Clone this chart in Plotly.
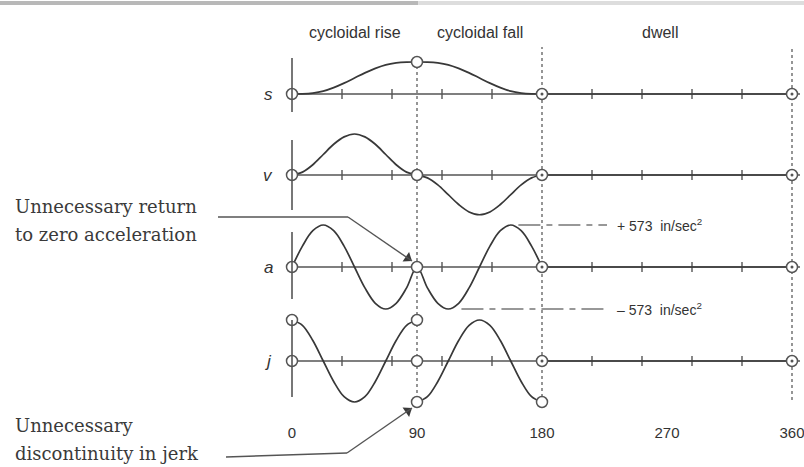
import math
import plotly.graph_objects as go

# ---------------- data ----------------
theta = [0, 7.5, 15, 22.5, 30, 37.5, 45, 52.5, 60, 67.5, 75, 82.5, 90,
         97.5, 105, 112.5, 120, 127.5, 135, 142.5, 150, 157.5, 165, 172.5, 180]
theta_rise = theta[:13]
theta_fall = theta[12:]

# displacement (normalised, rise height = 1)
s_vals = [0, 0.004, 0.03, 0.09, 0.2, 0.34, 0.5, 0.66, 0.8, 0.91, 0.97, 0.996, 1.0,
          0.996, 0.97, 0.91, 0.8, 0.66, 0.5, 0.34, 0.2, 0.09, 0.03, 0.004, 0]
# velocity (normalised)
v_vals = [0, 0.07, 0.25, 0.5, 0.75, 0.93, 1.0, 0.93, 0.75, 0.5, 0.25, 0.07, 0,
          -0.07, -0.24, -0.48, -0.72, -0.9, -0.97, -0.9, -0.72, -0.48, -0.24, -0.07, 0]
# acceleration, in/sec^2
a_vals = [0, 285, 495, 573, 495, 285, 0, -285, -495, -573, -495, -285, 0,
          -285, -495, -573, -495, -285, 0, 285, 495, 573, 495, 285, 0]
# jerk (normalised), discontinuous at 90 deg
j_rise = [1, 0.87, 0.5, 0, -0.5, -0.87, -1, -0.87, -0.5, 0, 0.5, 0.87, 1]
j_fall = [-1, -0.87, -0.5, 0, 0.5, 0.87, 1, 0.87, 0.5, 0, -0.5, -0.87, -1]

# dwell segment 180 -> 360
theta_dwell = [180, 360]
dwell_vals = [0, 0]

x_tick_vals = [0, 90, 180, 270, 360]
x_tick_text = ["0", "90", "180", "270", "360"]
minor_ticks = [36, 72, 108, 144, 216, 252, 288, 324]
segment_labels = ["cycloidal rise", "cycloidal fall", "dwell"]
segment_centres = [45, 135, 265]
acc_limit = 573
curve_names = ["s", "v", "a", "j"]

# ---------------- layout helpers (pixel geometry) ----------------
W, H = 804, 467
X0_PX, PX_PER_DEG = 292, 500 / 360
def p(py):
    return 1 - py / H
def deg(px):
    return (px - X0_PX) / PX_PER_DEG

HALF = 45  # half height of each strip, px
strips = {  # baseline px, px per unit
    "s": (94, 32 / 1.0),
    "v": (175, 41 / 1.0),
    "a": (267, 42 / acc_limit),
    "j": (361, 41 / 1.0),
}
axis_ids = {"s": "y", "v": "y2", "a": "y3", "j": "y4"}

CURVE = "#383838"
BASE = "#555555"
DOT = "#6a6a6a"
SANS = "Liberation Sans, Arial, sans-serif"
SERIF = "DejaVu Serif, Liberation Serif, serif"

fig = go.Figure()

def add_curve(x, y, ax):
    fig.add_trace(go.Scatter(x=x, y=y, yaxis=ax, mode="lines",
                             line=dict(color=CURVE, width=1.7, shape="spline", smoothing=1),
                             hoverinfo="skip", showlegend=False))

# baselines + minor ticks
for name in curve_names:
    ax = axis_ids[name]
    fig.add_trace(go.Scatter(x=[0, deg(800)], y=[0, 0], yaxis=ax, mode="lines",
                             line=dict(color=BASE, width=1.6), hoverinfo="skip", showlegend=False))
    fig.add_trace(go.Scatter(x=minor_ticks, y=[0] * len(minor_ticks), yaxis=ax, mode="markers",
                             marker=dict(symbol="line-ns-open", size=7, color=BASE,
                                         line=dict(color=BASE, width=1.4)),
                             hoverinfo="skip", showlegend=False, cliponaxis=False))

add_curve(theta, s_vals, "y")
add_curve(theta, v_vals, "y2")
add_curve(theta, a_vals, "y3")
add_curve(theta_rise + [None] + theta_fall, j_rise + [None] + j_fall, "y4")
for name in curve_names:
    add_curve(theta_dwell, dwell_vals, axis_ids[name])

# boundary circles
def circles(xs, ys, ax):
    fig.add_trace(go.Scatter(x=xs, y=ys, yaxis=ax, mode="markers",
                             marker=dict(symbol="circle", size=11, color="white",
                                         line=dict(color=BASE, width=1.5)),
                             hoverinfo="skip", showlegend=False, cliponaxis=False))

for name, vals in (("s", s_vals), ("v", v_vals), ("a", a_vals)):
    circles([theta[0], theta[12], theta[24], theta_dwell[-1]],
            [vals[0], vals[12], vals[24], dwell_vals[-1]], axis_ids[name])
circles([theta_rise[0], theta_rise[0], theta_rise[-1], theta_rise[-1], theta_fall[0],
         theta_fall[-1], theta_fall[-1], theta_dwell[-1]],
        [j_rise[0], 0, j_rise[-1], 0, j_fall[0], 0, j_fall[-1], dwell_vals[-1]], "y4")
# centre dots of the dwell-boundary circles
for name in curve_names:
    fig.add_trace(go.Scatter(x=theta_dwell, y=dwell_vals, yaxis=axis_ids[name], mode="markers",
                             marker=dict(symbol="circle", size=3, color=BASE),
                             hoverinfo="skip", showlegend=False, cliponaxis=False))

shapes = []
# scan border at top
shapes.append(dict(type="line", xref="paper", yref="paper", x0=0, x1=0.52, y0=p(3), y1=p(3),
                   line=dict(color="#b8b8b8", width=4)))
shapes.append(dict(type="line", xref="paper", yref="paper", x0=0.52, x1=1, y0=p(3), y1=p(3),
                   line=dict(color="#dddddd", width=4)))
# vertical axis stubs at 0 deg (px above / below baseline)
stubs = {"s": (36, 18), "v": (35, 35), "a": (35, 32), "j": (41, 36)}
for name, (up, down) in stubs.items():
    b, k = strips[name]
    shapes.append(dict(type="line", xref="x", yref=axis_ids[name], x0=0, x1=0,
                       y0=-down / k, y1=up / k, line=dict(color=BASE, width=1.6)))
# dotted verticals
for xv, ytop, ybot in ((90, 66, 399), (180, 47, 403), (360, 47, 400)):
    shapes.append(dict(type="line", xref="x", yref="paper", x0=xv, x1=xv, y0=p(ybot), y1=p(ytop),
                       line=dict(color=DOT, width=1.4, dash="dot"), layer="below"))
# +/- 573 dashed leaders
shapes.append(dict(type="line", xref="x", yref="y3", x0=163, x1=deg(607), y0=acc_limit, y1=acc_limit,
                   line=dict(color="#777777", width=1.5, dash="22px,6px,6px,6px")))
shapes.append(dict(type="line", xref="x", yref="y3", x0=122, x1=deg(607), y0=-acc_limit, y1=-acc_limit,
                   line=dict(color="#777777", width=1.5, dash="22px,6px,6px,6px")))

# leader lines (polyline: horizontal run then arrow shaft), pixel geometry
leaders = [
    # (start, bend, tip)
    ((218, 217), (348, 217), (412, 261)),
    ((226, 457), (347, 453), (412, 408)),
]
for (x0, y0), (x1, y1), (x2, y2) in leaders:
    for (ax0, ay0), (ax1, ay1) in (((x0, y0), (x1, y1)), ((x1, y1), (x2, y2))):
        shapes.append(dict(type="line", xref="paper", yref="paper", x0=ax0 / W, x1=ax1 / W,
                           y0=p(ay0), y1=p(ay1), line=dict(color="#555555", width=1.4)))
# arrow heads: rotated triangles on a full-height pixel overlay axis (y5)
for (_, (x1, y1), (x2, y2)) in leaders:
    dx, dy = x2 - x1, y2 - y1
    L = math.hypot(dx, dy)
    ux, uy = dx / L, dy / L
    ang = math.degrees(math.atan2(dx, -dy))
    cx, cy = x2 - 5 * ux, y2 - 5 * uy
    fig.add_trace(go.Scatter(x=[deg(cx)], y=[cy], yaxis="y5", mode="markers",
                             marker=dict(symbol="triangle-up", size=10, angle=ang, color="#3a3a3a",
                                         line=dict(width=0)),
                             hoverinfo="skip", showlegend=False, cliponaxis=False))

ann = []
for name in curve_names:
    ann.append(dict(x=deg(268), y=0, xref="x", yref=axis_ids[name], text=f"<i>{name}</i>",
                    showarrow=False, font=dict(family=SANS, size=17, color="#333333")))
for txt, xc in zip(segment_labels, segment_centres):
    ann.append(dict(x=xc, y=p(22), xref="x", yref="paper", text=txt, showarrow=False,
                    font=dict(family=SANS, size=16, color="#333333")))
ann.append(dict(x=deg(615), y=acc_limit, xref="x", yref="y3", xanchor="left",
                text=f"+ {acc_limit}  in/sec<sup>2</sup>", showarrow=False,
                font=dict(family=SANS, size=14, color="#333333")))
ann.append(dict(x=deg(615), y=-acc_limit, xref="x", yref="y3", xanchor="left",
                text=f"\u2013 {acc_limit}  in/sec<sup>2</sup>", showarrow=False,
                font=dict(family=SANS, size=14, color="#333333")))
for txt, py in (("Unnecessary return", 206), ("to zero acceleration", 234),
                ("Unnecessary", 425), ("discontinuity in jerk", 453)):
    ann.append(dict(x=13 / W, y=p(py), xref="paper", yref="paper", xanchor="left", yanchor="middle",
                    text=txt, showarrow=False, font=dict(family=SERIF, size=18, color="#3a3a3a")))

layout = dict(
    width=W, height=H, margin=dict(l=0, r=0, t=0, b=0),
    paper_bgcolor="white", plot_bgcolor="rgba(0,0,0,0)",
    showlegend=False, shapes=shapes, annotations=ann,
    xaxis=dict(domain=[0, 1], range=[deg(0), deg(W)], anchor="free", position=p(422),
               tickvals=x_tick_vals, ticktext=x_tick_text, ticks="", showgrid=False,
               ticklabeloverflow="allow",
               zeroline=False, showline=False, tickfont=dict(family=SANS, size=15, color="#333333")),
    yaxis5=dict(domain=[0, 1], range=[H, 0], anchor="x", visible=False,
                showgrid=False, zeroline=False),
)
for name in curve_names:
    b, k = strips[name]
    key = "yaxis" if axis_ids[name] == "y" else "yaxis" + axis_ids[name][1:]
    layout[key] = dict(domain=[p(b + HALF), p(b - HALF)], range=[-HALF / k, HALF / k],
                       anchor="x", visible=False, showgrid=False, zeroline=False)
fig.update_layout(**layout)
fig.write_html("out.html")
